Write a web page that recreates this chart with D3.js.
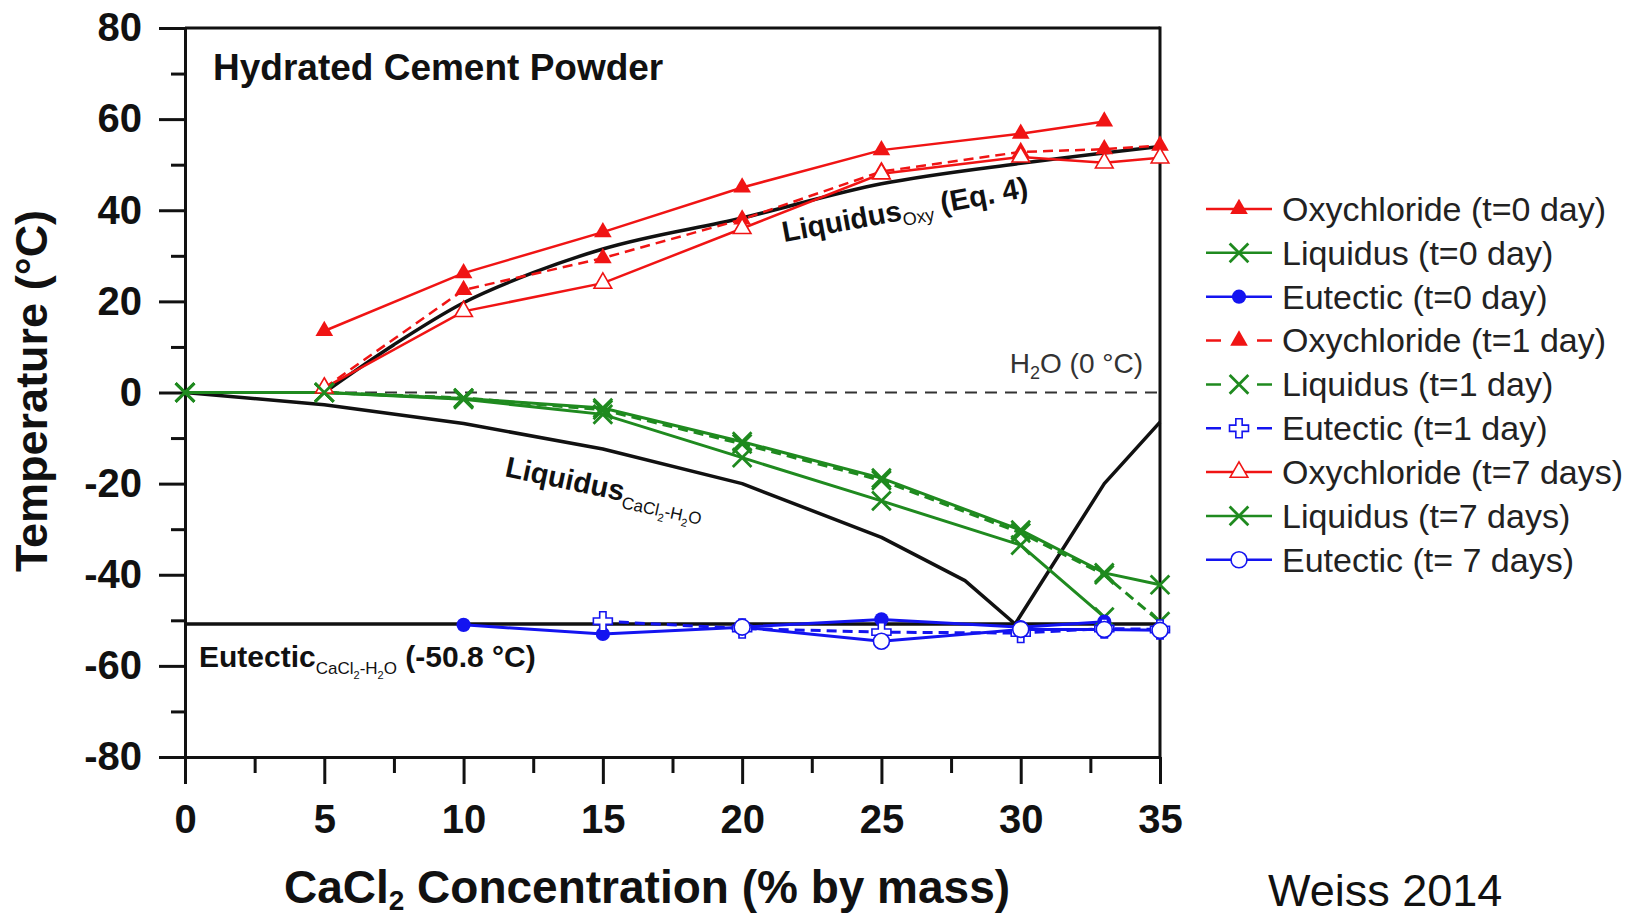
<!DOCTYPE html>
<html><head><meta charset="utf-8">
<script src="https://cdn.jsdelivr.net/npm/d3@7"></script>
<style>
html,body{margin:0;padding:0;background:#fff;}
svg{display:block;font-family:"Liberation Sans",Arial,Helvetica,sans-serif;}
text{white-space:pre;}
</style></head><body>
<svg id="chart" width="1637" height="919"></svg>
<script>
// Axis ticks
const xTicksMajor = [0, 5, 10, 15, 20, 25, 30, 35];
const xTicksMinor = [2.5, 7.5, 12.5, 17.5, 22.5, 27.5, 32.5];
const yTicksMajor = [-80, -60, -40, -20, 0, 20, 40, 60, 80];
const yTicksMinor = [-70, -50, -30, -10, 10, 30, 50, 70];

// Measured transitions: [CaCl2 % by mass, temperature °C]
const oxyDay0 = [[5, 13.5], [10, 26.2], [15, 35.2], [20, 45], [25, 53.2], [30, 56.8], [33, 59.5]];
const oxyDay1 = [[5, 1], [10, 22.5], [15, 29.5], [20, 38], [25, 48.5], [30, 52.8], [33, 53.4], [35, 54.2]];
const oxyDay7 = [[5, 1], [10, 17.8], [15, 24], [20, 36], [25, 48], [30, 51.7], [33, 50.4], [35, 51.5]];

const liqDay0 = [[0, 0], [5, 0], [10, -1.5], [15, -4.8], [20, -14.3], [25, -23.8], [30, -33.5], [33, -49.3]];
const liqDay1 = [[0, 0], [5, 0], [10, -1.2], [15, -3.8], [20, -11.3], [25, -19.3], [30, -30.8], [33, -40], [35, -50.3]];
const liqDay7 = [[0, 0], [5, 0], [10, -1.3], [15, -3.4], [20, -10.8], [25, -18.8], [30, -30.2], [33, -39.6], [35, -42.2]];

const eutDay0 = [[10, -51], [15, -53], [20, -51.5], [25, -49.8], [30, -51.5], [33, -50.3]];
const eutDay1 = [[15, -50.2], [20, -51.8], [25, -52.6], [30, -52.8], [33, -51.8], [35, -52]];
const eutDay7 = [[20, -51.5], [25, -54.6], [30, -52], [33, -52], [35, -52.2]];

// Reference curves
const liquidusOxy = [[5, 0], [7.5, 10.5], [10, 19.7], [12.5, 26.3], [15, 31.5], [20, 38.3], [25, 45.8], [30, 50.3], [35, 54]];
const liquidusCaCl2 = [[0, 0], [5, -2.7], [10, -6.8], [15, -12.4], [20, -20], [25, -31.8], [28, -41.3], [29.8, -50.8], [33, -20], [35, -6.5]];
const waterFreezing = 0;
const eutecticTemp = -50.8;

const RED = "#f01414", GREEN = "#1f8a1f", BLUE = "#1414f0";

const series = [
  {name: "Oxychloride (t=0 day)", data: oxyDay0, color: RED, dashed: false, marker: "triFilled"},
  {name: "Liquidus (t=0 day)", data: liqDay0, color: GREEN, dashed: false, marker: "x"},
  {name: "Eutectic (t=0 day)", data: eutDay0, color: BLUE, dashed: false, marker: "dot"},
  {name: "Oxychloride (t=1 day)", data: oxyDay1, color: RED, dashed: true, marker: "triFilled"},
  {name: "Liquidus (t=1 day)", data: liqDay1, color: GREEN, dashed: true, marker: "x"},
  {name: "Eutectic (t=1 day)", data: eutDay1, color: BLUE, dashed: true, marker: "cross"},
  {name: "Oxychloride (t=7 days)", data: oxyDay7, color: RED, dashed: false, marker: "triOpen"},
  {name: "Liquidus (t=7 days)", data: liqDay7, color: GREEN, dashed: false, marker: "x"},
  {name: "Eutectic (t= 7 days)", data: eutDay7, color: BLUE, dashed: false, marker: "circleOpen"}
];

const svg = d3.select("#chart");
const x = d3.scaleLinear().domain([0, 35]).range([185, 1160]);
const y = d3.scaleLinear().domain([-80, 80]).range([757, 28]);

// Axes
svg.append("g").attr("transform", `translate(0,${y(-80)})`)
  .call(d3.axisBottom(x).tickValues(xTicksMajor).tickSize(27).tickSizeOuter(0).tickPadding(21).tickFormat(d => String(d)));
svg.append("g").attr("transform", `translate(0,${y(-80)})`)
  .call(d3.axisBottom(x).tickValues(xTicksMinor).tickSize(16).tickSizeOuter(0).tickFormat(""));
svg.append("g").attr("transform", `translate(${x(0)},0)`)
  .call(d3.axisLeft(y).tickValues(yTicksMajor).tickSize(26).tickSizeOuter(0).tickPadding(17).tickFormat(d => String(d)));
svg.append("g").attr("transform", `translate(${x(0)},0)`)
  .call(d3.axisLeft(y).tickValues(yTicksMinor).tickSize(14).tickSizeOuter(0).tickFormat(""));
svg.selectAll(".domain, .tick line").attr("stroke", "#111").attr("stroke-width", 3);
svg.selectAll(".tick text").attr("font-size", 40).attr("font-weight", "bold").attr("fill", "#111")
  .attr("font-family", '"Liberation Sans",Arial,sans-serif');

// Frame top and right
svg.append("line").attr("x1", x(0)).attr("x2", x(35)).attr("y1", y(80)).attr("y2", y(80))
  .attr("stroke", "#111").attr("stroke-width", 3);
svg.append("line").attr("x1", x(35)).attr("x2", x(35)).attr("y1", y(80) - 1.5).attr("y2", y(-80) + 1.5)
  .attr("stroke", "#111").attr("stroke-width", 3);

// Reference lines
svg.append("line").attr("x1", x(0)).attr("x2", x(35)).attr("y1", y(waterFreezing)).attr("y2", y(waterFreezing))
  .attr("stroke", "#333").attr("stroke-width", 2).attr("stroke-dasharray", "12,8");
svg.append("line").attr("x1", x(0)).attr("x2", x(35)).attr("y1", y(eutecticTemp)).attr("y2", y(eutecticTemp))
  .attr("stroke", "#111").attr("stroke-width", 3.5);

const line = d3.line().x(d => x(d[0])).y(d => y(d[1]));
svg.append("path").attr("d", line.curve(d3.curveMonotoneX)(liquidusOxy))
  .attr("fill", "none").attr("stroke", "#111").attr("stroke-width", 3.5);
svg.append("path").attr("d", line.curve(d3.curveLinear)(liquidusCaCl2))
  .attr("fill", "none").attr("stroke", "#111").attr("stroke-width", 3.5).attr("stroke-linejoin", "round");

// Series lines
const seriesLine = d3.line().x(d => x(d[0])).y(d => y(d[1]));
series.forEach(s => {
  svg.append("path").attr("d", seriesLine(s.data))
    .attr("fill", "none").attr("stroke", s.color)
    .attr("stroke-width", s.color === RED ? 2.5 : 3)
    .attr("stroke-dasharray", s.dashed ? "10,6" : null);
});

// Markers
function drawMarker(g, kind, color) {
  switch (kind) {
    case "triFilled":
      return g.append("path").attr("d", d3.symbol(d3.symbolTriangle, 135)()).attr("fill", color);
    case "triOpen":
      return g.append("path").attr("d", d3.symbol(d3.symbolTriangle, 135)()).attr("fill", "#fff")
        .attr("stroke", color).attr("stroke-width", 1.6);
    case "dot":
      return g.append("path").attr("d", d3.symbol(d3.symbolCircle, 160)()).attr("fill", color);
    case "circleOpen":
      return g.append("path").attr("d", d3.symbol(d3.symbolCircle, 200)()).attr("fill", "#fff")
        .attr("stroke", color).attr("stroke-width", 1.6);
    case "cross":
      return g.append("path").attr("d", d3.symbol(d3.symbolCross, 200)()).attr("fill", "#fff")
        .attr("stroke", color).attr("stroke-width", 1.6);
    case "x":
      return g.append("path").attr("d", d3.symbol(d3.symbolX, 230)()).attr("fill", "none")
        .attr("stroke", color).attr("stroke-width", 2.8);
  }
}
series.forEach(s => {
  s.data.forEach(d => {
    const g = svg.append("g").attr("transform", `translate(${x(d[0])},${y(d[1])})`);
    drawMarker(g, s.marker, s.color);
  });
});

// Rich text with sub/superscripts
function rich(tx, ty, rot, parts, opts = {}) {
  const t = svg.append("text")
    .attr("transform", `translate(${tx},${ty}) rotate(${rot})`)
    .attr("fill", opts.fill || "#111")
    .attr("text-anchor", opts.anchor || "start");
  let prev = 0;
  parts.forEach(p => {
    const off = p.off || 0;
    t.append("tspan").attr("font-size", p.size).attr("font-weight", p.bold ? "bold" : "normal")
      .attr("dy", off - prev).text(p.t);
    prev = off;
  });
  return t;
}

// Title
rich(213, 80, 0, [{t: "Hydrated Cement Powder", size: 37, bold: true}]);

// Axis titles
rich(47, 391, -90, [{t: "Temperature (°C)", size: 45, bold: true}], {anchor: "middle"});
rich(647, 903, 0, [
  {t: "CaCl", size: 46, bold: true},
  {t: "2", size: 28, bold: true, off: 7},
  {t: " Concentration (% by mass)", size: 46, bold: true, off: 0}
], {anchor: "middle"});

// Curve annotations
rich(784, 242, -10.5, [
  {t: "Liquidus", size: 29, bold: true},
  {t: "Oxy", size: 18, off: 6},
  {t: " (Eq. 4)", size: 29, bold: true, off: 0}
]);
rich(504, 476, 12, [
  {t: "Liquidus", size: 29, bold: true},
  {t: "CaCl", size: 17, off: 7},
  {t: "2", size: 11, off: 12},
  {t: "-H", size: 17, off: 7},
  {t: "2", size: 11, off: 12},
  {t: "O", size: 17, off: 7}
]);
rich(199, 667, 0, [
  {t: "Eutectic", size: 30, bold: true},
  {t: "CaCl", size: 17, off: 7},
  {t: "2", size: 11, off: 12},
  {t: "-H", size: 17, off: 7},
  {t: "2", size: 11, off: 12},
  {t: "O", size: 17, off: 7},
  {t: " (-50.8 °C)", size: 30, bold: true, off: 0}
]);
rich(1143, 373, 0, [
  {t: "H", size: 28},
  {t: "2", size: 18, off: 6},
  {t: "O (0 °C)", size: 28, off: 0}
], {anchor: "end", fill: "#333"});

// Legend
const legendY0 = 209, legendStep = 43.85;
series.forEach((s, i) => {
  const ly = legendY0 + i * legendStep;
  svg.append("line").attr("x1", 1206).attr("x2", 1272).attr("y1", ly).attr("y2", ly)
    .attr("stroke", s.color).attr("stroke-width", 2.5)
    .attr("stroke-dasharray", s.dashed ? "15,36,15" : null);
  const g = svg.append("g").attr("transform", `translate(1239,${ly})`);
  drawMarker(g, s.marker, s.color);
  svg.append("text").attr("x", 1282).attr("y", ly).attr("dy", "0.35em")
    .attr("font-size", 34).attr("fill", "#222").text(s.name);
});

// Source note
svg.append("text").attr("x", 1268).attr("y", 906).attr("font-size", 45).attr("fill", "#111").text("Weiss 2014");
</script>
</body></html>
